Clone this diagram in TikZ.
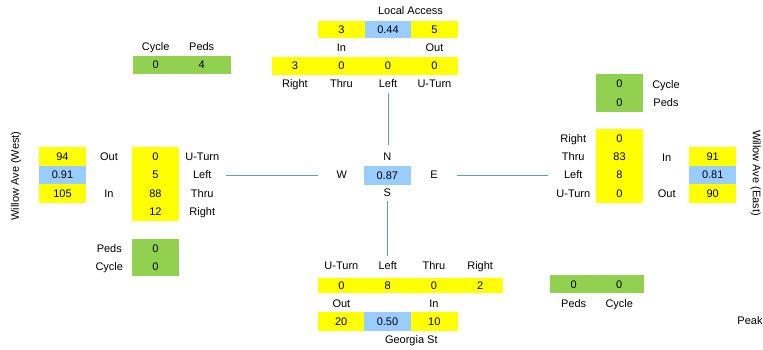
\documentclass[tikz,border=0pt]{standalone}
\usepackage{fontspec}
\setmainfont{Liberation Sans}
\definecolor{cyel}{HTML}{FFFF00}
\definecolor{cblu}{HTML}{99CCFF}
\definecolor{cgrn}{HTML}{92D050}
\definecolor{cline}{HTML}{5B9BD5}
\begin{document}
\begin{tikzpicture}[x=1pt,y=-1pt,
  every node/.style={font=\fontsize{11}{13}\selectfont, inner sep=0pt, text height=7.9pt, text depth=0pt},
  cell/.style={minimum width=46.5pt, minimum height=18.4pt},
  yc/.style={cell, fill=cyel},
  bc/.style={cell, fill=cblu},
  gc/.style={cell, fill=cgrn},
  conn/.style={draw=cline, line width=0.9pt}]
\useasboundingbox (0,0) rectangle (763,349);

% ---------- North (Local Access) ----------
\node (nname) at (410.5,11) {Local Access};
\node[yc, minimum height=17.6pt] (nin)  at (341.45,29.5) {3};
\node[bc, minimum height=17.6pt] (nphf) at (387.95,29.5) {0.44};
\node[yc, minimum height=17.6pt] (nout) at (434.45,29.5) {5};
\node (ninl)  at (341.45,47.7) {In};
\node (noutl) at (434.45,47.7) {Out};
\node[yc] (nr) at (294.95,65.8) {3};
\node[yc] (nt) at (341.45,65.8) {0};
\node[yc] (nl) at (387.95,65.8) {0};
\node[yc] (nu) at (434.45,65.8) {0};
\node (nrl) at (294.95,84) {Right};
\node (ntl) at (341.45,84) {Thru};
\node (nll) at (387.95,84) {Left};
\node (nul) at (434.45,84) {U-Turn};

% ---------- North-west peds/cycle ----------
\node (nwcl) at (155.7,46.7) {Cycle};
\node (nwpl) at (201.7,46.7) {Peds};
\node[fill=cgrn, minimum width=97.4pt, minimum height=18.6pt] (nwg) at (182,65) {};
\node (nwc) at (155.7,65) {0};
\node (nwp) at (201.7,65) {4};

% ---------- West (Willow Ave West) ----------
\node[rotate=90] (wname) at (15,176) {Willow Ave (West)};
\node[yc, minimum width=47pt] (wout) at (62.5,156.5) {94};
\node[bc, minimum width=47pt] (wphf) at (62.5,175) {0.91};
\node[yc, minimum width=47pt] (win)  at (62.5,193.4) {105};
\node (woutl) at (109,156.7) {Out};
\node (winl)  at (109,193.3) {In};
\node[yc, minimum width=47pt] (wu) at (155.5,156.5) {0};
\node[yc, minimum width=47pt] (wl) at (155.5,174.9) {5};
\node[yc, minimum width=47pt] (wt) at (155.5,193.3) {88};
\node[yc, minimum width=47pt] (wr) at (155.5,211.7) {12};
\node (wul) at (202.3,156.5) {U-Turn};
\node (wll) at (202.3,175) {Left};
\node (wtl) at (202.3,193.3) {Thru};
\node (wrl) at (202.3,211.6) {Right};
\node (wpl) at (109.3,248.3) {Peds};
\node (wcl) at (109.3,266.7) {Cycle};
\node[gc, minimum width=47pt] (wp) at (155.5,248.3) {0};
\node[gc, minimum width=47pt] (wc) at (155.5,266.7) {0};

% ---------- Centre ----------
\node (cN) at (387.3,156.7) {N};
\node[bc, minimum width=46.7pt, minimum height=18.7pt] (cphf) at (387.3,175.3) {0.87};
\node (cW) at (341.7,175) {W};
\node (cE) at (434,175) {E};
\node (cS) at (387.3,192.7) {S};

% ---------- East (Willow Ave East) ----------
\node[gc, minimum width=47pt, minimum height=18.8pt] (ec) at (619.5,83.4) {0};
\node[gc, minimum width=47pt, minimum height=18.8pt] (ep) at (619.5,102.2) {0};
\node (ecl) at (666,84.7) {Cycle};
\node (epl) at (666,102.7) {Peds};
\node[yc, minimum width=47pt] (er) at (619.5,138.2) {0};
\node[yc, minimum width=47pt] (et) at (619.5,156.6) {83};
\node[yc, minimum width=47pt] (el) at (619.5,175) {8};
\node[yc, minimum width=47pt] (eu) at (619.5,193.4) {0};
\node (erl) at (573.3,138.2) {Right};
\node (etl) at (573.3,156.6) {Thru};
\node (ell) at (573.3,175) {Left};
\node (eul) at (573.3,193.4) {U-Turn};
\node (einl)  at (666.7,157.7) {In};
\node (eoutl) at (666.7,193.3) {Out};
\node[yc, minimum width=46.7pt, minimum height=18.5pt] (ein)  at (712.7,156.5) {91};
\node[bc, minimum width=46.7pt, minimum height=18.5pt] (ephf) at (712.7,175) {0.81};
\node[yc, minimum width=46.7pt, minimum height=18.5pt] (eout) at (712.7,193.5) {90};
\node[rotate=-90] (ename) at (756.7,173) {Willow Ave (East)};

% ---------- South (Georgia St) ----------
\node (sul) at (341.4,266) {U-Turn};
\node (sll) at (387.7,266) {Left};
\node (stl) at (433.9,266) {Thru};
\node (srl) at (480.2,266) {Right};
\node[yc, minimum width=46.25pt, minimum height=15.7pt] (su) at (341.4,285.5) {0};
\node[yc, minimum width=46.25pt, minimum height=15.7pt] (sl) at (387.7,285.5) {8};
\node[yc, minimum width=46.25pt, minimum height=15.7pt] (st) at (433.9,285.5) {0};
\node[yc, minimum width=46.25pt, minimum height=15.7pt] (sr) at (480.2,285.5) {2};
\node (soutl) at (341.4,303.3) {Out};
\node (sinl)  at (433.9,303.3) {In};
\node[yc, minimum height=19pt] (sout) at (341.2,321.2) {20};
\node[bc, minimum height=19pt] (sphf) at (387.5,321.2) {0.50};
\node[yc, minimum height=19pt] (sin)  at (434.3,321.2) {10};
\node (sname) at (411.3,340) {Georgia St};

% ---------- South-east peds/cycle ----------
\node[fill=cgrn, minimum width=94pt, minimum height=18.3pt] (seg) at (597,284.2) {};
\node (sep) at (573.7,284.2) {0};
\node (sec) at (619.3,284.2) {0};
\node (sepl) at (573.7,303.3) {Peds};
\node (secl) at (619.3,303.3) {Cycle};
\node (peak) at (750,321) {Peak};

% ---------- Connectors ----------
\draw[conn, shorten <=5pt, shorten >=7.7pt] (nll.south) -- (nll.south |- cN.north);
\draw[conn, shorten <=4.4pt, shorten >=6.3pt] (cS.south) -- (cS.south |- sll.north);
\draw[conn, shorten <=14.5pt, shorten >=18.8pt] (wll.east) -- (cW.west);
\draw[conn, shorten <=19pt, shorten >=16.4pt] (cE.east) -- (ell.west);
\end{tikzpicture}
\end{document}
